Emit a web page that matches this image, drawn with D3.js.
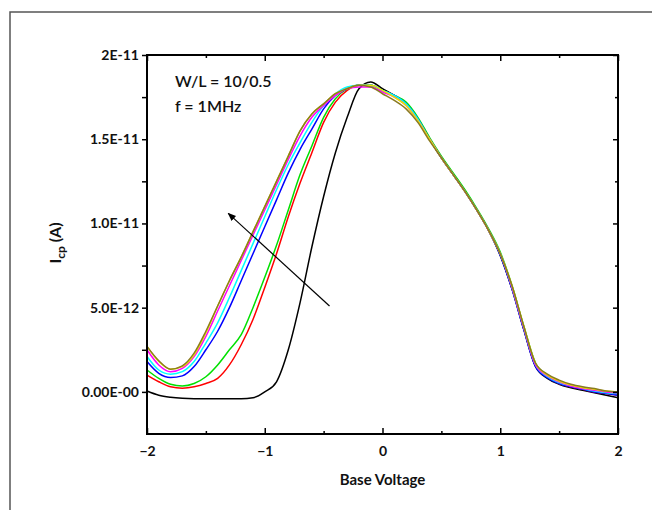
<!DOCTYPE html>
<html>
<head>
<meta charset="utf-8">
<script src="https://cdn.jsdelivr.net/npm/d3@7"></script>
<style>
  body { margin: 0; background: #fff; }
  svg text { font-family: Lato, "Open Sans", sans-serif; fill: #111; }
</style>
</head>
<body>
<svg id="chart" width="652" height="510"></svg>
<script>
// base voltage (V)
let voltage = [-2.0, -1.9, -1.8, -1.7, -1.6, -1.5, -1.4, -1.3, -1.2, -1.1,
  -1.0, -0.9, -0.8, -0.7, -0.6, -0.5, -0.4, -0.3, -0.2, -0.1,
  0.0, 0.1, 0.2, 0.3, 0.4, 0.5, 0.6, 0.7, 0.8, 0.9,
  1.0, 1.1, 1.2, 1.3, 1.4, 1.5, 1.6, 1.7, 1.8, 1.9, 2.0];

// charge pumping current, in units of 1E-12 A
let black = [0.05, -0.2, -0.32, -0.38, -0.4, -0.4, -0.4, -0.4, -0.4, -0.35,
  0.0, 0.6, 2.5, 5.3, 8.6, 11.6, 14.2, 16.3, 18.0, 18.4,
  18.0, 17.6, 17.1, 16.2, 15.0, 13.9, 12.9, 11.9, 10.8, 9.6,
  8.1, 6.1, 3.7, 1.5, 0.8, 0.45, 0.25, 0.1, -0.05, -0.2, -0.35];
let red = [1.0, 0.6, 0.3, 0.22, 0.3, 0.5, 0.8, 1.6, 2.8, 4.3,
  6.2, 8.2, 10.4, 12.4, 14.2, 16.0, 17.2, 17.9, 18.2, 18.2,
  17.9, 17.6, 17.1, 16.2, 15.0, 13.9, 12.9, 11.9, 10.8, 9.6,
  8.2, 6.2, 3.8, 1.6, 0.9, 0.5, 0.3, 0.15, 0.0, -0.1, -0.2];
let green = [1.3, 0.8, 0.45, 0.35, 0.5, 0.9, 1.6, 2.5, 3.4, 5.0,
  6.8, 8.7, 10.8, 12.9, 14.6, 16.3, 17.4, 18.0, 18.2, 18.2,
  17.9, 17.6, 17.2, 16.3, 15.1, 14.0, 13.0, 12.0, 10.9, 9.7,
  8.3, 6.3, 3.9, 1.7, 1.0, 0.6, 0.35, 0.2, 0.05, -0.05, -0.1];
let blue = [1.8, 1.1, 0.85, 0.95, 1.5, 2.5, 3.6, 5.0, 6.6, 8.2,
  9.8, 11.4, 13.0, 14.4, 15.6, 16.8, 17.6, 18.0, 18.2, 18.2,
  17.9, 17.6, 17.1, 16.2, 15.0, 13.9, 12.9, 11.9, 10.8, 9.6,
  8.1, 6.1, 3.7, 1.5, 0.85, 0.5, 0.3, 0.15, 0.0, -0.1, -0.2];
let cyan = [2.1, 1.3, 1.05, 1.2, 1.8, 2.9, 4.1, 5.6, 7.2, 8.8,
  10.4, 12.0, 13.5, 14.8, 16.0, 17.0, 17.7, 18.1, 18.2, 18.2,
  17.9, 17.6, 17.1, 16.2, 15.0, 13.9, 12.9, 11.9, 10.8, 9.6,
  8.2, 6.2, 3.8, 1.6, 0.9, 0.55, 0.35, 0.2, 0.05, -0.05, -0.1];
let magenta = [2.5, 1.6, 1.2, 1.4, 2.1, 3.3, 4.8, 6.3, 7.8, 9.3,
  10.8, 12.3, 13.8, 15.2, 16.3, 17.0, 17.6, 18.0, 18.1, 18.1,
  17.8, 17.5, 17.0, 16.1, 15.0, 13.9, 12.9, 11.9, 10.8, 9.6,
  8.2, 6.2, 3.8, 1.6, 0.95, 0.6, 0.35, 0.2, 0.1, 0.0, -0.05];
let yellow = [2.7, 1.8, 1.35, 1.5, 2.2, 3.5, 5.1, 6.6, 8.0, 9.5,
  11.0, 12.5, 14.0, 15.5, 16.5, 17.1, 17.7, 18.0, 18.2, 18.2,
  17.9, 17.5, 17.0, 16.1, 15.0, 13.9, 12.9, 11.9, 10.8, 9.6,
  8.2, 6.3, 3.9, 1.7, 1.0, 0.65, 0.4, 0.25, 0.15, 0.05, 0.0];
let olive = [2.7, 1.85, 1.35, 1.55, 2.3, 3.6, 5.1, 6.6, 8.0, 9.5,
  11.0, 12.5, 14.0, 15.5, 16.5, 17.1, 17.7, 18.0, 18.2, 18.1,
  17.7, 17.3, 16.8, 16.0, 14.9, 13.9, 12.9, 11.9, 10.8, 9.6,
  8.2, 6.3, 3.9, 1.7, 1.05, 0.7, 0.45, 0.3, 0.2, 0.05, 0.0];

let series = [
  {name: "black", values: black, color: "#000000"},
  {name: "red", values: red, color: "#ff0000"},
  {name: "green", values: green, color: "#00e000"},
  {name: "blue", values: blue, color: "#0000ff"},
  {name: "cyan", values: cyan, color: "#00ffff"},
  {name: "magenta", values: magenta, color: "#ff00ff"},
  {name: "yellow", values: yellow, color: "#e8e800"},
  {name: "olive", values: olive, color: "#8a7a20"}
];

let xTicks = [-2, -1, 0, 1, 2];
let xMinor = [-1.5, -0.5, 0.5, 1.5];
let yTicks = [0, 5, 10, 15, 20];
let yTickLabels = ["0.00E-00", "5.0E-12", "1.0E-11", "1.5E-11", "2E-11"];
let yMinor = [2.5, 7.5, 12.5, 17.5];

let margin = {left: 147, top: 55, right: 618, bottom: 434};

let x = d3.scaleLinear().domain([-2, 2]).range([margin.left, margin.right]);
let y = d3.scaleLinear().domain([-2.5, 20]).range([margin.bottom, margin.top]);

let svg = d3.select("#chart");

// outer frame, runs off the page on the right and bottom
svg.append("rect")
  .attr("x", 10).attr("y", 12)
  .attr("width", 700).attr("height", 600)
  .attr("fill", "none")
  .attr("stroke", "#555")
  .attr("stroke-width", 1.5);

// curves
let line = d3.line()
  .x((d, i) => x(voltage[i]))
  .y(d => y(d))
  .curve(d3.curveMonotoneX);

svg.append("g")
  .selectAll("path")
  .data(series).enter()
  .append("path")
  .attr("d", d => line(d.values))
  .attr("fill", "none")
  .attr("stroke", d => d.color)
  .attr("stroke-width", 1.5);

// axes
function style_axis(g) {
  g.select(".domain").remove();
  g.selectAll("line").attr("stroke", "#000").attr("stroke-width", 1.5);
  g.selectAll("text")
    .style("font-family", "Lato, sans-serif")
    .style("font-size", "14px")
    .style("font-weight", "bold")
    .attr("fill", "#111");
}

function add_axis(axis, tx, ty) {
  svg.append("g")
    .attr("transform", `translate(${tx},${ty})`)
    .call(axis)
    .call(style_axis);
}

add_axis(d3.axisBottom(x).tickValues(xTicks).tickSize(-6).tickPadding(12)
  .tickFormat(d3.format("d")), 0, margin.bottom);
add_axis(d3.axisBottom(x).tickValues(xMinor).tickSize(-3).tickFormat(""), 0, margin.bottom);
add_axis(d3.axisTop(x).tickValues(xTicks).tickSize(-6).tickFormat(""), 0, margin.top);
add_axis(d3.axisTop(x).tickValues(xMinor).tickSize(-3).tickFormat(""), 0, margin.top);

add_axis(d3.axisLeft(y).tickValues(yTicks).tickSize(5).tickPadding(3)
  .tickFormat((d, i) => yTickLabels[i]), margin.left, 0);
add_axis(d3.axisLeft(y).tickValues(yMinor).tickSize(5).tickFormat(""), margin.left, 0);
add_axis(d3.axisRight(y).tickValues(yTicks).tickSize(-5).tickFormat(""), margin.right, 0);
add_axis(d3.axisRight(y).tickValues(yMinor).tickSize(-3).tickFormat(""), margin.right, 0);

// plot box
svg.append("rect")
  .attr("x", margin.left).attr("y", margin.top)
  .attr("width", margin.right - margin.left)
  .attr("height", margin.bottom - margin.top)
  .attr("fill", "none")
  .attr("stroke", "#000")
  .attr("stroke-width", 2);

// arrow
svg.append("defs").append("marker")
  .attr("id", "head")
  .attr("viewBox", "0 0 10 10")
  .attr("refX", 9).attr("refY", 5)
  .attr("markerWidth", 7).attr("markerHeight", 7)
  .attr("orient", "auto")
  .append("path")
  .attr("d", "M0,1 L10,5 L0,9 Z")
  .attr("fill", "#000");

svg.append("line")
  .attr("x1", x(-0.45)).attr("y1", y(5.1))
  .attr("x2", x(-1.31)).attr("y2", y(10.6))
  .attr("stroke", "#000")
  .attr("stroke-width", 1.2)
  .attr("marker-end", "url(#head)");

// annotations
svg.append("text")
  .attr("x", 175).attr("y", 87)
  .style("font-size", "16px")
  .style("font-weight", "600")
  .text("W/L = 10/0.5");
svg.append("text")
  .attr("x", 175).attr("y", 112)
  .style("font-size", "16px")
  .style("font-weight", "600")
  .text("f = 1MHz");

// axis titles
svg.append("text")
  .attr("x", (margin.left + margin.right) / 2)
  .attr("y", 485)
  .attr("text-anchor", "middle")
  .style("font-size", "15px")
  .style("font-weight", "bold")
  .text("Base Voltage");

let ylab = svg.append("text")
  .attr("transform", "translate(61,243) rotate(-90)")
  .attr("text-anchor", "middle")
  .style("font-size", "16px")
  .style("font-weight", "bold");
ylab.append("tspan").text("I");
ylab.append("tspan").attr("dy", 4).style("font-size", "12px").text("cp");
ylab.append("tspan").attr("dy", -4).text(" (A)");
</script>
</body>
</html>
